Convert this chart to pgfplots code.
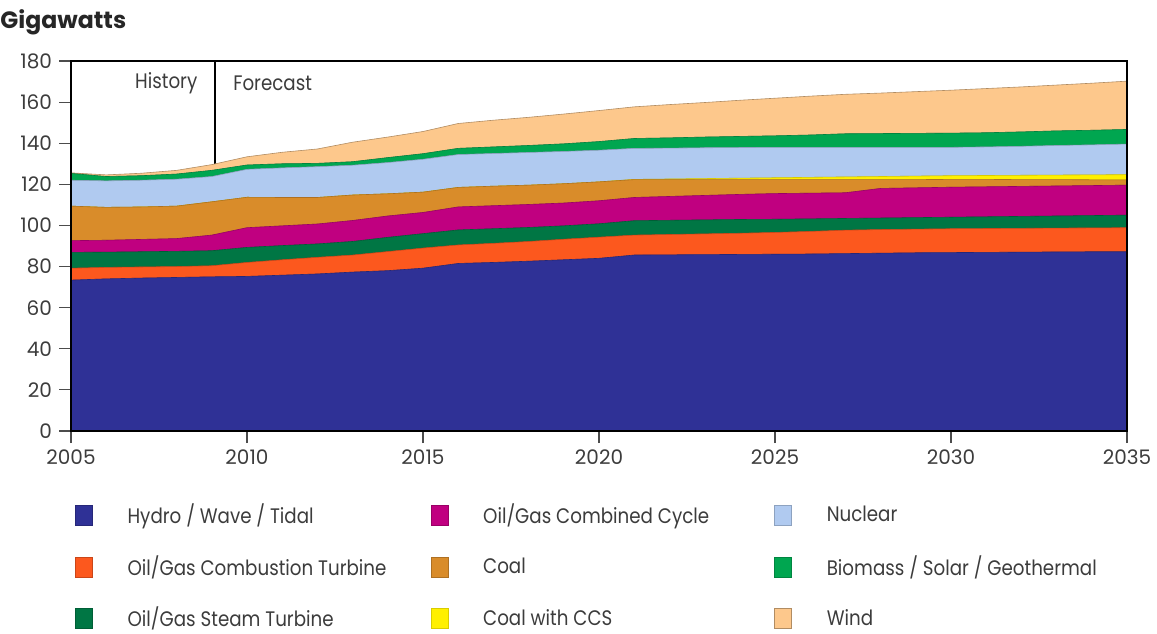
\documentclass[border=0pt]{standalone}
\usepackage{pgfplots}
\usepackage{pgfplotstable}
\pgfplotsset{compat=1.18}
\usepackage{fontspec}
\setmainfont{Poppins}
\newfontfamily\narrowfont{Poppins}[FakeStretch=0.87]

\definecolor{hydro}{RGB}{47,49,150}
\definecolor{ct}{RGB}{252,88,30}
\definecolor{st}{RGB}{0,118,68}
\definecolor{cc}{RGB}{192,0,128}
\definecolor{coal}{RGB}{217,140,42}
\definecolor{ccs}{RGB}{255,240,0}
\definecolor{nuc}{RGB}{176,202,240}
\definecolor{bio}{RGB}{0,166,80}
\definecolor{wind}{RGB}{253,200,140}
\definecolor{textgray}{RGB}{60,60,60}

\pgfplotstableread{
year h    ct   st   cc   coal ccs  nuc  bio  wind
2005 73.4 5.8  7.7  5.7  16.8 0    12.6 3.3  0.3
2006 74.0 5.6  7.4  5.8  16.0 0    12.9 2.1  0.8
2007 74.4 5.4  7.4  6.0  15.8 0    13.0 2.2  1.2
2008 74.7 5.3  7.4  6.2  15.8 0    13.1 2.5  1.8
2009 75.0 5.4  7.3  7.6  16.2 0    12.3 3.0  2.8
2010 75.2 6.8  7.3  9.6  14.8 0    13.6 2.1  4.0
2011 75.8 7.5  6.9  9.6  13.8 0    14.4 2.0  5.6
2012 76.4 8.1  6.5  9.7  12.9 0    15.0 1.6  7.0
2013 77.3 8.3  6.6  10.2 12.4 0    14.5 1.7  9.5
2014 78.0 9.3  6.9  10.4 10.8 0    15.2 2.4  10.0
2015 79.2 9.8  7.0  10.3 9.9  0    16.0 2.7  10.8
2016 81.5 9.0  7.3  11.2 9.5  0    16.0 3.0  12.1
2017 82.0 9.3  7.1  11.2 9.5  0    15.9 3.2  13.0
2018 82.6 9.6  6.8  11.2 9.4  0    15.9 3.4  13.7
2019 83.3 10.0 6.5  11.1 9.4  0    15.7 3.7  14.5
2020 84.0 10.3 6.5  11.2 9.2  0    15.4 4.2  15.1
2021 85.6 9.7  7.0  11.3 8.7  0.1  15.1 4.8  15.4
2022 85.7 9.9  6.9  11.6 8.2  0.3  15.0 5.0  16.2
2023 85.8 10.1 6.8  11.9 7.7  0.5  15.0 5.2  16.8
2024 85.9 10.3 6.7  12.2 7.2  0.7  14.9 5.4  17.6
2025 86.0 10.6 6.4  12.5 6.8  0.9  14.8 5.6  18.3
2026 86.1 11.0 6.1  12.5 6.6  1.1  14.6 6.0  18.9
2027 86.3 11.4 5.7  12.5 6.4  1.3  14.4 6.6  19.2
2028 86.5 11.5 5.6  14.4 4.3  1.5  14.2 6.7  19.7
2029 86.7 11.5 5.6  14.5 4.0  1.7  14.0 6.8  20.3
2030 86.8 11.6 5.6  14.6 3.8  1.8  13.8 6.9  20.9
2031 86.9 11.6 5.7  14.6 3.6  1.9  13.9 6.9  21.5
2032 87.0 11.6 5.8  14.6 3.3  2.1  14.1 7.0  21.9
2033 87.1 11.6 5.9  14.6 3.1  2.2  14.4 7.1  22.3
2034 87.2 11.6 6.0  14.6 2.8  2.4  14.6 7.1  22.9
2035 87.2 11.7 6.1  14.6 2.6  2.5  14.9 7.1  23.5
}\data

\newcommand{\colA}[1]{\makebox[151.5pt][l]{#1}}
\newcommand{\colB}[1]{\makebox[145.5pt][l]{#1}}

\begin{document}
\begin{tikzpicture}
\useasboundingbox (-35.5pt,-101pt) rectangle (543pt,215.5pt);
\begin{axis}[
  at={(0pt,0pt)}, anchor=south west,
  width=528pt, height=185pt, scale only axis,
  xmin=2005, xmax=2035, ymin=0, ymax=180,
  xtick={2005,2010,...,2035}, ytick={0,20,...,180},
  tick align=outside, major tick length=6pt,
  tick style={black!70, line width=0.6pt},
  xtick pos=bottom, ytick pos=left,
  axis line style={black, line width=0.8pt},
  ticklabel style={font=\fontsize{10}{12}\selectfont, text=textgray},
  /pgf/number format/assume math mode=true,
  xticklabel style={/pgf/number format/1000 sep={}},
  stack plots=y, axis on top,
  legend columns=3, transpose legend, legend cell align=left,
  legend image code/.code={\draw[#1, line width=0.3pt] (0pt,-5pt) rectangle (8.5pt,5pt);},
  legend style={at={(0,0)}, anchor=north west, xshift=2pt, yshift=-36.5pt,
    draw=none, fill=none, inner sep=0pt, outer sep=0pt,
    font=\narrowfont\fontsize{10.5}{12}\selectfont, text=textgray,
    row sep=14.4pt,
    nodes={inner sep=0pt, align=left},
    /tikz/every odd column/.append style={column sep=17.5pt}},
]
\addplot[fill=hydro, draw=hydro!80!black, line width=0.3pt] table[x=year,y=h]{\data} \closedcycle;
\addlegendentry{\colA{Hydro / Wave / Tidal}}
\addplot[fill=ct, draw=ct!80!black, line width=0.3pt] table[x=year,y=ct]{\data} \closedcycle;
\addlegendentry{\colA{Oil/Gas Combustion Turbine}}
\addplot[fill=st, draw=st!80!black, line width=0.3pt] table[x=year,y=st]{\data} \closedcycle;
\addlegendentry{\colA{Oil/Gas Steam Turbine}}
\addplot[fill=cc, draw=cc!80!black, line width=0.3pt] table[x=year,y=cc]{\data} \closedcycle;
\addlegendentry{\colB{Oil/Gas Combined Cycle}}
\addplot[fill=coal, draw=coal!80!black, line width=0.3pt] table[x=year,y=coal]{\data} \closedcycle;
\addlegendentry{\colB{Coal}}
\addplot[fill=ccs, draw=ccs!85!black, line width=0.3pt] table[x=year,y=ccs]{\data} \closedcycle;
\addlegendentry{\colB{Coal with CCS}}
\addplot[fill=nuc, draw=nuc!80!black, line width=0.3pt] table[x=year,y=nuc]{\data} \closedcycle;
\addlegendentry{Nuclear}
\addplot[fill=bio, draw=bio!80!black, line width=0.3pt] table[x=year,y=bio]{\data} \closedcycle;
\addlegendentry{Biomass / Solar / Geothermal}
\addplot[fill=wind, draw=wind!70!black, line width=0.3pt] table[x=year,y=wind]{\data} \closedcycle;
\addlegendentry{Wind}
\draw[black, line width=1.1pt] (axis cs:2009.1,0) -- (axis cs:2009.1,180);
\node[anchor=east, inner sep=0pt, font=\narrowfont\fontsize{10.5}{12}\selectfont, text=textgray] at (axis cs:2008.6,169.3) {History};
\node[anchor=west, inner sep=0pt, font=\narrowfont\fontsize{10.5}{12}\selectfont, text=textgray] at (axis cs:2009.6,169.3) {Forecast};
\end{axis}
\node[anchor=west, inner sep=0pt, font=\bfseries\fontsize{11.8}{13}\selectfont, text=black!85] at (-35.5pt,204.5pt) {Gigawatts};
\end{tikzpicture}
\end{document}
